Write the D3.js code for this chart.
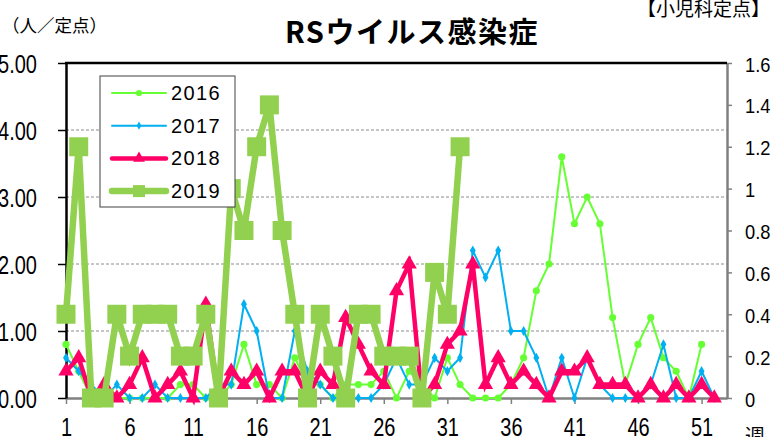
<!DOCTYPE html>
<html lang="ja">
<head>
<meta charset="UTF-8">
<script src="https://cdn.jsdelivr.net/npm/d3@7"></script>
<title>RSウイルス感染症</title>
<style>
    body { margin: 0; background: #fff; }
    svg { display: block; font-family: "Liberation Sans", Arial, sans-serif; }
    .jp { font-family: "Noto Sans CJK JP", sans-serif; }
</style>
</head>
<body>
<script>
    // week numbers and per-season values (人/定点)
    const weekTicks = [1, 6, 11, 16, 21, 26, 31, 36, 41, 46, 51];
    const leftTicks = [0, 1, 2, 3, 4, 5];
    const rightTicks = [0, 0.2, 0.4, 0.6, 0.8, 1, 1.2, 1.4, 1.6];

    // 2016-2018 read against the left axis
    const y2016 = [0.8, 0.4, 0, 0, 0, 0, 0, 0, 0, 0.2, 0.2, 0, 0, 0.2, 0.8, 0.2, 0.2, 0, 0.6, 0.2,
        0.2, 0, 0.2, 0.2, 0.2, 0.4, 0, 0.4, 0.2, 0, 0.6, 0.2, 0, 0, 0, 0.2, 0.6, 1.6, 2.0, 3.6,
        2.6, 3.0, 2.6, 1.2, 0.2, 0.8, 1.2, 0.6, 0.4, 0, 0.8];
    const y2017 = [0.6, 0.4, 0.2, 0, 0.2, 0, 0, 0.2, 0, 0, 0, 0, 0.2, 0.2, 1.4, 1.0, 0, 0, 1.0, 0.4,
        0.2, 0, 0, 0, 0, 0.2, 0.6, 0.2, 0.2, 0.6, 0.4, 0.6, 2.2, 1.8, 2.2, 1.0, 1.0, 0.6, 0, 0.6,
        0, 0.6, 0.2, 0, 0, 0, 0.2, 0.8, 0, 0, 0.4, 0];
    const y2018 = [0.4, 0.6, 0, 0.2, 0, 0.2, 0.6, 0, 0.2, 0.4, 0, 1.4, 0, 0.4, 0.2, 0.4, 0, 0.4, 0.4, 0,
        0.4, 0.2, 1.2, 0.8, 0.4, 0.2, 1.6, 2.0, 0, 0.2, 0.8, 1.0, 2.0, 0.2, 0.6, 0.2, 0.4, 0.2, 0, 0.4,
        0.4, 0.6, 0.2, 0.2, 0.2, 0, 0.2, 0, 0.2, 0, 0.2, 0];
    // 2019 read against the right axis
    const y2019 = [0.4, 1.2, 0, 0, 0.4, 0.2, 0.4, 0.4, 0.4, 0.2, 0.2, 0.4, 0, 1.0, 0.8, 1.2, 1.4, 0.8, 0.4, 0,
        0.4, 0.2, 0, 0.4, 0.4, 0.2, 0.2, 0.2, 0, 0.6, 0.4, 1.2];

    const W = 772, H = 437;
    const plot = { left: 66, right: 727, top: 63, bottom: 398 };

    const svg = d3.select("body").append("svg")
        .attr("width", W)
        .attr("height", H);

    const x = d3.scaleLinear().domain([1, 53]).range([plot.left, plot.right]);
    const yL = d3.scaleLinear().domain([0, 5]).range([plot.bottom, plot.top]);
    const yR = d3.scaleLinear().domain([0, 1.6]).range([plot.bottom, plot.top]);

    // gridlines
    svg.append("g")
        .selectAll("line")
        .data(leftTicks.filter(d => d > 0 && d < 5))
        .enter()
        .append("line")
        .attr("x1", plot.left).attr("x2", plot.right)
        .attr("y1", d => yL(d)).attr("y2", d => yL(d))
        .attr("stroke", "#8c8c8c")
        .attr("stroke-width", 1)
        .attr("stroke-dasharray", "3,2");

    // bottom axis
    const gx = svg.append("g")
        .attr("transform", `translate(0,${plot.bottom})`)
        .call(d3.axisBottom(x).tickValues(weekTicks).tickSize(6).tickSizeOuter(0));
    gx.select(".domain").attr("stroke", "#808080").attr("stroke-width", 2.5);
    gx.selectAll(".tick line").attr("stroke", "#808080").attr("stroke-width", 1.5);
    gx.selectAll(".tick text")
        .attr("y", null).attr("dy", null)
        .attr("transform", "translate(0,38) scale(0.8,1)")
        .attr("font-size", 25)
        .attr("fill", "#000");

    // left axis
    const gl = svg.append("g")
        .attr("transform", `translate(${plot.left},0)`)
        .call(d3.axisLeft(yL).tickValues(leftTicks).tickFormat(d3.format(".2f")).tickSize(8).tickSizeOuter(0));
    gl.select(".domain").attr("stroke", "#000").attr("stroke-width", 2.5);
    gl.selectAll(".tick line").attr("stroke", "#000").attr("stroke-width", 1.5);
    gl.selectAll(".tick text")
        .attr("x", null).attr("dy", null)
        .attr("transform", "translate(-29,9) scale(0.8,1)")
        .attr("font-size", 25)
        .attr("fill", "#000");

    // right axis
    const gr = svg.append("g")
        .attr("transform", `translate(${plot.right},0)`)
        .call(d3.axisRight(yR).tickValues(rightTicks).tickFormat(d => String(+d.toFixed(1))).tickSize(5).tickSizeOuter(0));
    gr.select(".domain").attr("stroke", "#808080").attr("stroke-width", 2.5);
    gr.selectAll(".tick line").attr("stroke", "#808080").attr("stroke-width", 1.5);
    gr.selectAll(".tick text")
        .attr("x", null).attr("dy", null)
        .attr("transform", "translate(18,8) scale(0.87,1)")
        .attr("font-size", 21)
        .attr("fill", "#000");

    // top frame line
    svg.append("line")
        .attr("x1", plot.left - 1).attr("x2", plot.right)
        .attr("y1", plot.top).attr("y2", plot.top)
        .attr("stroke", "#000").attr("stroke-width", 2.5);

    const series = [
        { name: "2016", values: y2016, y: yL, color: "#66FF33", width: 2, symbol: d3.symbolCircle, size: 40, lsize: 30 },
        { name: "2017", values: y2017, y: yL, color: "#00B0F0", width: 2, symbol: d3.symbolDiamond, size: 30, lsize: 20 },
        { name: "2018", values: y2018, y: yL, color: "#FF0066", width: 4.5, symbol: d3.symbolTriangle, size: 100, lsize: 60 },
        { name: "2019", values: y2019, y: yR, color: "#92D050", width: 6.5, symbol: d3.symbolSquare, size: 361, lsize: 144 }
    ];

    series.forEach(s => {
        const pts = s.values.map((v, i) => [i + 1, v]);
        const line = d3.line()
            .x(d => x(d[0]))
            .y(d => s.y(d[1]));
        const g = svg.append("g");
        g.append("path")
            .datum(pts)
            .attr("d", line)
            .attr("fill", "none")
            .attr("stroke", s.color)
            .attr("stroke-width", s.width)
            .attr("stroke-linejoin", "miter");
        g.selectAll("path.pt")
            .data(pts)
            .enter()
            .append("path")
            .attr("class", "pt")
            .attr("d", d3.symbol().type(s.symbol).size(s.size))
            .attr("transform", d => `translate(${x(d[0])},${s.y(d[1])})`)
            .attr("fill", s.color);
    });

    // legend
    const legend = svg.append("g").attr("transform", "translate(100,76)");
    legend.append("rect")
        .attr("width", 135).attr("height", 131)
        .attr("fill", "#fff")
        .attr("stroke", "#404040")
        .attr("stroke-width", 1);
    series.forEach((s, i) => {
        const ly = 17 + i * 32.7;
        legend.append("line")
            .attr("x1", 12).attr("x2", 66)
            .attr("y1", ly).attr("y2", ly)
            .attr("stroke", s.color)
            .attr("stroke-width", s.width)
            .attr("stroke-linecap", "round");
        legend.append("path")
            .attr("d", d3.symbol().type(s.symbol).size(s.lsize))
            .attr("transform", `translate(39,${ly})`)
            .attr("fill", s.color);
        legend.append("text")
            .attr("x", 71).attr("y", ly + 7)
            .attr("font-size", 20)
            .attr("letter-spacing", 1.4)
            .text(s.name);
    });

    // titles
    svg.append("text")
        .attr("class", "jp")
        .attr("x", 412).attr("y", 43)
        .attr("text-anchor", "middle")
        .attr("font-size", 29)
        .attr("font-weight", "bold")
        .attr("letter-spacing", 1.5)
        .text("RSウイルス感染症");
    svg.append("text")
        .attr("class", "jp")
        .attr("x", 2).attr("y", 32)
        .attr("font-size", 17.5)
        .text("（人／定点）");
    svg.append("text")
        .attr("class", "jp")
        .attr("x", 770).attr("y", 16)
        .attr("text-anchor", "end")
        .attr("font-size", 19)
        .text("【小児科定点】");
    svg.append("text")
        .attr("class", "jp")
        .attr("x", 745).attr("y", 444)
        .attr("font-size", 20)
        .text("週");
</script>
</body>
</html>
